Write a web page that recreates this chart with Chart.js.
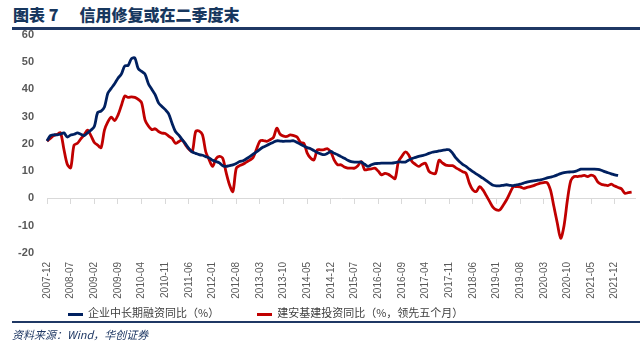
<!DOCTYPE html>
<html lang="zh-CN">
<head>
<meta charset="UTF-8">
<title>信用修复或在二季度末</title>
<script src="https://cdn.jsdelivr.net/npm/chart.js"></script>
<style>
    body { margin: 0; width: 644px; height: 349px; background: #fff; position: relative; overflow: hidden; font-family: "Noto Sans CJK SC", sans-serif; }
    #title { position: absolute; left: 13px; top: 2px; font-size: 16px; font-weight: 900; color: #17375e; white-space: nowrap; }
    #title span { margin-left: 21px; }
    .rule { position: absolute; left: 12px; width: 628px; background: #1f3864; }
    #chartBox { position: absolute; left: 0; top: 15px; width: 656px; height: 291px; }
    #legend { position: absolute; top: 304px; left: 68px; font-size: 11px; color: #404040; white-space: nowrap; }
    #legend .item { display: inline-block; margin-right: 38px; }
    #legend .swatch { display: inline-block; width: 15px; height: 3px; vertical-align: middle; margin-right: 5px; }
    #source { position: absolute; left: 12px; top: 326px; font-size: 11px; font-style: italic; color: #1f3864; white-space: nowrap; }
</style>
</head>
<body>
    <div id="title">图表 7<span>信用修复或在二季度末</span></div>
    <div class="rule" style="top:27px;height:3px;"></div>
    <div id="chartBox"><canvas id="creditChart"></canvas></div>
    <div id="legend"><span class="item"><span class="swatch" style="background:#002060"></span>企业中长期融资同比（%）</span><span class="item"><span class="swatch" style="background:#c00000"></span>建安基建投资同比（%，领先五个月）</span></div>
    <div class="rule" style="top:321px;height:2px;"></div>
    <div id="source">资料来源：Wind，华创证券</div>

<script>
// monthly categories, 2007-12 .. 2022-06
const startYear = 2007, startMonth = 12, monthCount = 175;
const months = [];
for (let k = 0; k < monthCount; k++) {
    let m = startMonth - 1 + k;
    let y = startYear + Math.floor(m / 12);
    months.push(y + "-" + String(m % 12 + 1).padStart(2, "0"));
}

// labels shown on the axis
const tickLabels = ["2007-12", "2008-07", "2009-02", "2009-09", "2010-04", "2010-11", "2011-06",
    "2012-01", "2012-08", "2013-03", "2013-10", "2014-05", "2014-12", "2015-07", "2016-02",
    "2016-09", "2017-04", "2017-11", "2018-06", "2019-01", "2019-08", "2020-03", "2020-10",
    "2021-05", "2021-12"];

// 企业中长期融资同比（%）
const loanGrowth = [
    21, 23, 23.3, 23.3, 23.5, 24, 22.5, 23.2, 23.5, 24, 23.5, 23, 24, 25, 26.3, 31.5, 32, 33.5, 38.5, 40.3,
    42, 44, 45.5, 48.5, 48.7, 51.2, 51.4, 47.5, 46.5, 45.5, 42, 40, 38, 35, 33.7, 32.5, 31, 27.5, 24.5, 23.2,
    21.5, 20, 18.2, 17, 16.5, 16, 15.8, 15.3, 14.8, 14, 13.5, 13, 12, 11.7, 12, 12.3, 12.8, 13.5, 13.8, 14.5,
    15.3, 16.2, 17, 18, 18.8, 19.4, 20, 20.6, 21.1, 21, 20.9, 21, 21, 21.1, 20.5, 19.8, 19.2, 18.6, 18.2, 17.5,
    16.8, 16.3, 16, 16.5, 17.2, 16.5, 16, 15.3, 14.7, 14, 13.5, 13.3, 13.3, 13.3, 12.5, 11.7, 12.3, 12.7, 12.8, 12.9,
    12.9, 12.9, 12.9, 13.1, 13.4, 13.3, 13.3, 14, 14.6, 15, 15.4, 15.7, 16, 16.5, 16.9, 17.1, 17.4, 17.6, 17.8, 17.8,
    16.6, 14.8, 13.5, 12.5, 11.7, 10.7, 9.8, 9, 8.2, 7.4, 6.5, 5.6, 4.8, 4.6, 4.6, 4.8, 5, 4.8, 4.7, 5,
    5.2, 5.6, 6, 6.2, 6.4, 6.6, 6.8, 7.1, 7.5, 7.8, 8.1, 8.6, 9.1, 9.4, 9.6, 9.7, 9.8, 10.2, 10.7, 10.7,
    10.7, 10.7, 10.7, 10.6, 10.3, 9.8, 9.4, 9, 8.6, 8.4, null, null, null, null, null
];

// 建安基建投资同比（%，领先五个月）
const infraGrowth = [
    21, 22, 23, 23.5, 24, 18, 12.5, 11.2, 19.5, 20.2, 21.8, 23.3, 25, 23, 20.5, 19.5, 18.6, 25, 28, 29.8,
    28.5, 30.5, 34, 37.5, 37, 37.2, 37, 36.3, 35, 28.8, 26.5, 25.2, 25.5, 24.5, 23.9, 23.8, 22.8, 22, 20.2, 20.8,
    21.4, 19.6, 18, 17.2, 24.5, 24.7, 23.3, 17, 14.1, 11.7, 14.5, 15.4, 14.7, 9.5, 5, 2.5, 11, 12, 12.5, 13.3,
    14, 15, 18, 21, 21.2, 20.9, 21.5, 22.3, 25.7, 23.5, 22.8, 22.7, 23.3, 23, 22.5, 20.5, 20.2, 16.6, 14.8, 14.1,
    17.8, 17.8, 17.9, 18.2, 17, 14, 12.3, 12.3, 11.5, 11.1, 11.1, 11.1, 12, 13.5, 10.5, 10.6, 10.8, 11.1, 10, 8.6,
    9.2, 8.8, 8, 7.2, 13.5, 15.4, 17, 16, 13.5, 12.5, 11.7, 12.5, 12.9, 10, 9.2, 9.2, 14, 13, 12.2, 12,
    12, 11.2, 10.5, 9.8, 9.2, 5.5, 3.1, 2.5, 4.3, 3.1, 1, -1.2, -3.3, -4.2, -4.2, -2.5, -0.5, 2, 4.3, 4.3,
    4.2, 3.7, 4, 4.3, 4.7, 5.2, 5.6, 5.8, 5.8, 3, -3, -9, -14.6, -10, -0.6, 6.5, 8, 8, 8.2, 8.4,
    8, 8.5, 8, 6, 5.2, 4.9, 4.7, 5.2, 4.5, 4, 3.5, 1.9, 2.1, 2.3, null
];

const axisGray = "#d9d9d9";
const textGray = "#595959";

new Chart(document.getElementById("creditChart"), {
    type: "line",
    data: {
        labels: months,
        datasets: [
            {
                label: "企业中长期融资同比（%）",
                data: loanGrowth,
                borderColor: "#002060",
                backgroundColor: "#002060",
                borderWidth: 2.8,
                pointRadius: 0,
                tension: 0.3,
                xAxisID: "x"
            },
            {
                label: "建安基建投资同比（%，领先五个月）",
                data: infraGrowth,
                borderColor: "#c00000",
                backgroundColor: "#c00000",
                borderWidth: 2.8,
                pointRadius: 0,
                tension: 0.3,
                xAxisID: "x"
            }
        ]
    },
    options: {
        responsive: true,
        maintainAspectRatio: false,
        animation: false,
        layout: { padding: { top: 5, right: 9, left: 0, bottom: 0 } },
        plugins: {
            legend: { display: false },
            tooltip: { enabled: false }
        },
        scales: {
            // zero line with tick marks
            x: {
                type: "category",
                position: { y: 0 },
                offset: false,
                ticks: { display: false, autoSkip: false },
                grid: {
                    drawOnChartArea: false,
                    drawTicks: true,
                    tickLength: 5,
                    tickColor: (ctx) => tickLabels.includes(months[ctx.index]) ? axisGray : "rgba(0,0,0,0)"
                },
                border: { display: true, color: axisGray, width: 1 }
            },
            // date labels at the bottom
            xLabels: {
                type: "category",
                position: "bottom",
                offset: false,
                grid: { display: false, drawTicks: false },
                border: { display: false },
                ticks: {
                    autoSkip: false,
                    minRotation: 90,
                    maxRotation: 90,
                    padding: 9,
                    color: textGray,
                    font: { family: "Liberation Sans", size: 10 },
                    callback: function (value, index) {
                        let lab = months[index];
                        return tickLabels.includes(lab) ? lab : "";
                    }
                },
                afterFit: (scale) => { scale.height = 53; }
            },
            y: {
                min: -20,
                max: 60,
                grid: { display: false, drawTicks: false },
                border: { display: false },
                ticks: {
                    stepSize: 10,
                    padding: 13,
                    color: textGray,
                    font: { family: "Liberation Sans", size: 11, weight: "bold" }
                },
                afterFit: (scale) => { scale.width = 47; }
            }
        }
    }
});
</script>
</body>
</html>
